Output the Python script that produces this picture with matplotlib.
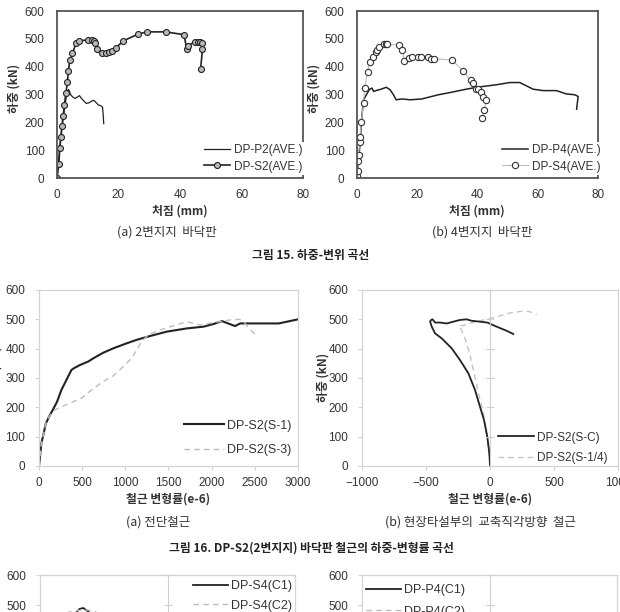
import matplotlib
matplotlib.use('Agg')
import matplotlib.pyplot as plt

plt.rcParams['font.family'] = ['Liberation Sans', 'Noto Sans CJK KR']
KR = ['Noto Sans CJK KR', 'Liberation Sans']

# fig 15 (a) load-deflection, 2-edge supported
p2_x = [0, 0.5, 1.0, 1.5, 2.0, 2.5, 3.0, 3.4, 3.7, 4.0, 4.4, 5.0, 5.8, 6.5, 7.3, 8.0, 8.8,
        9.5, 10.4, 11.2, 12.0, 12.8, 13.5, 14.2, 14.8, 15.0, 15.2]
p2_y = [0, 60, 120, 170, 215, 255, 290, 305, 318, 314, 300, 292, 286, 290, 296, 285, 276,
        268, 270, 276, 279, 270, 262, 260, 255, 230, 195]
s2_x = [0, 0.6, 0.9, 1.3, 1.6, 2.0, 2.4, 2.9, 3.4, 3.7, 4.2, 5.0, 6.2, 7.3, 10.0, 11.3,
        12.0, 12.4, 13.1, 14.5, 15.9, 16.9, 17.8, 19.2, 21.6, 26.4, 29.2, 35.3, 41.3, 42.2,
        42.7, 45.0, 46.0, 46.6, 47.0, 47.3, 46.7]
s2_y = [0, 51, 106, 149, 188, 221, 262, 306, 346, 386, 424, 448, 484, 493, 496, 496,
        493, 484, 462, 450, 448, 454, 457, 468, 493, 517, 525, 525, 515, 463,
        476, 490, 490, 487, 484, 462, 391]

# fig 15 (b) load-deflection, 4-edge supported
p4_x = [0, 0.55, 1.1, 1.6, 2.2, 3.1, 4.2, 5.0, 5.5, 6.6, 8.0, 9.7, 11.0, 12.1, 13.0, 14.9,
        17.7, 21.5, 24.8, 27.0, 30.9, 35.3, 39.7, 46.3, 50.7, 54.0, 58.5, 61.8, 66.2, 69.5,
        72.3, 73.4, 72.9]
p4_y = [0, 66, 138, 221, 281, 299, 319, 323, 311, 315, 319, 326, 317, 299, 281, 284,
        281, 284, 293, 299, 307, 317, 326, 335, 343, 343, 319, 314, 314, 302,
        299, 293, 247]
s4_x = [0, 0.2, 0.4, 0.55, 0.9, 1.0, 1.4, 2.2, 2.5, 3.5, 4.2, 5.3, 6.2, 6.6, 7.4, 9.1,
        9.5, 9.9, 13.8, 15.1, 15.7, 17.1, 18.2, 20.4, 21.2, 23.7, 24.5, 25.7, 31.5, 35.1,
        37.7, 38.6, 39.5, 40.3, 41.1, 41.9, 42.8, 42.3, 41.4]
s4_y = [6, 24, 60, 84, 131, 149, 202, 271, 323, 382, 415, 433, 452, 460, 469, 481,
        481, 480, 478, 460, 420, 430, 435, 435, 435, 435, 428, 428, 424, 386,
        351, 340, 320, 319, 310, 290, 280, 244, 214]

# fig 16 (a) shear reinforcement strain
s1_x = [0, 8, 27, 54, 77, 116, 163, 209, 259, 317, 375, 403, 472, 569, 646, 743, 859, 995,
        1130, 1285, 1479, 1711, 1905, 2021, 2120, 2200, 2271, 2329, 2563, 2776, 2873, 3000]
s1_y = [0, 20, 77, 111, 143, 168, 193, 219, 259, 293, 327, 333, 344, 356, 370, 386, 401, 416,
        430, 443, 458, 469, 475, 484, 494, 485, 477, 486, 486, 486, 492, 500]
s3_x = [0, 8, 27, 54, 77, 116, 182, 259, 356, 491, 607, 743, 859, 976, 1072, 1130, 1188,
        1266, 1401, 1556, 1711, 1866, 2021, 2214, 2323, 2389, 2447, 2505]
s3_y = [0, 20, 77, 111, 143, 168, 191, 202, 214, 231, 259, 288, 307, 339, 367, 395, 424,
        447, 464, 478, 492, 481, 489, 498, 500, 486, 464, 449]

# fig 16 (b) transverse bars at cast-in-place joint
sc_x = [0, -5, -21, -47, -78, -117, -169, -234, -299, -377, -429, -455, -468, -460, -449,
        -429, -390, -338, -286, -234, -182, -143, -78, -21, 52, 130, 182]
sc_y = [0, 43, 100, 157, 202, 259, 316, 361, 401, 435, 452, 475, 492, 498, 500,
        489, 489, 486, 492, 498, 500, 495, 492, 489, 475, 461, 450]
sq_x = [0, -8, -20, -38, -52, -70, -91, -110, -130, -155, -182, -205, -221, -240, -215,
        -170, -110, -50, 0, 80, 160, 240, 300, 340, 364]
sq_y = [0, 40, 90, 140, 180, 215, 248, 290, 327, 375, 418, 445, 462, 480, 478,
        485, 492, 498, 503, 512, 522, 527, 527, 522, 515]

# fig 17 (cut off at page bottom)
c1_x = [-725, -690, -660, -620]
c1_y = [470, 487, 490, 478]
c2_x = [-820, -760, -700, -640, -580, -530]
c2_y = [470, 478, 482, 484, 480, 470]

W, H = 620, 612
fig = plt.figure(figsize=(W / 100, H / 100), dpi=100)


def box(l, t, r, b):
    return [l / W, 1 - b / H, (r - l) / W, (b - t) / H]


def px(x, y):
    return x / W, 1 - y / H


def style_top(ax, xmax):
    ax.set_xlim(0, xmax)
    ax.set_ylim(0, 600)
    ax.set_xticks(range(0, xmax + 1, 20))
    ax.set_yticks(range(0, 601, 100))
    for s in ax.spines.values():
        s.set_color('#555555')
        s.set_linewidth(1.3)
    ax.tick_params(length=0, labelsize=8.5, labelcolor='#333333', pad=9)
    ax.tick_params(axis='x', pad=8)


def style_light(ax, xmin, xmax, step):
    ax.set_xlim(xmin, xmax)
    ax.set_ylim(0, 600)
    ax.set_xticks(range(xmin, xmax + 1, step))
    ax.set_yticks(range(0, 601, 100))
    for s in ax.spines.values():
        s.set_color('#d4d4d4')
        s.set_linewidth(0.9)
    ax.tick_params(length=3, color='#d4d4d4', labelsize=8.5, labelcolor='#333333', pad=7)
    ax.tick_params(axis='x', pad=5)


def zero_axis(pos, xmin, xmax):
    ax2 = fig.add_axes(pos, facecolor='none')
    ax2.set_xlim(xmin, xmax)
    ax2.set_ylim(0, 600)
    ax2.set_yticks(range(0, 601, 100))
    ax2.set_xticks([])
    for k in ['top', 'right', 'bottom']:
        ax2.spines[k].set_visible(False)
    ax2.spines['left'].set_position(('data', 0))
    ax2.spines['left'].set_color('#cfcfcf')
    ax2.tick_params(axis='y', direction='inout', length=6, color='#cfcfcf', labelleft=False)
    return ax2


def legend(ax, x, y, hl, sp, fs=8.5, handles=None, labels=None):
    kw = dict(loc='center left', bbox_to_anchor=px(x, y), bbox_transform=fig.transFigure,
              frameon=True, facecolor='white', edgecolor='none', framealpha=1,
              borderpad=0.2, handlelength=hl, handletextpad=0.3, labelspacing=sp,
              fontsize=fs, borderaxespad=0)
    if handles is None:
        lg = ax.legend(**kw)
    else:
        lg = ax.legend(handles, labels, **kw)
    for t in lg.get_texts():
        t.set_color('#333333')
    return lg


def xlabel(x, y, s):
    fig.text(*px(x, y), s, family=KR, fontsize=8.5, fontweight='bold',
             color='#333333', ha='center', va='center')


def ylabel(x, y, s):
    fig.text(*px(x, y), s, family=KR, fontsize=8.5, fontweight='bold',
             color='#333333', ha='center', va='center', rotation=90)


def caption(x, y, s):
    fig.text(*px(x, y), s, family=KR, fontsize=9, color='#333333',
             ha='center', va='center')


# ---- figure 15 ----
ax = fig.add_axes(box(57, 11, 303, 178))
style_top(ax, 80)
ax.plot(p2_x, p2_y, color='#222222', lw=0.9, label='DP-P2(AVE.)')
ax.plot(s2_x, s2_y, color='#222222', lw=1.2, marker='o', ms=4.3, mfc='#b8b8b8',
        mec='#222222', mew=0.8, label='DP-S2(AVE.)')
legend(ax, 202, 158.5, 2.2, 0.35)
xlabel(180, 211, '처짐 (mm)')
ylabel(14, 88, '하중 (kN)')
caption(167, 232, '(a) 2변지지  바닥판')

ax = fig.add_axes(box(357, 11, 598, 178))
style_top(ax, 80)
ax.plot(p4_x, p4_y, color='#222222', lw=1.1, label='DP-P4(AVE.)')
ax.plot(s4_x, s4_y, color='#bdbdbd', lw=0.8, marker='o', ms=4.5, mfc='white',
        mec='#333333', mew=0.8, label='DP-S4(AVE.)')
legend(ax, 500, 158.5, 2.2, 0.35)
xlabel(477, 211, '처짐 (mm)')
ylabel(314, 88, '하중 (kN)')
caption(482, 232, '(b) 4변지지  바닥판')

fig.text(*px(311, 255), '그림 15. 하중-변위 곡선', family=KR, fontsize=8.5,
         fontweight='bold', color='#222222', ha='center', va='center')

# ---- figure 16 ----
ax = fig.add_axes(box(39, 290, 298, 466))
style_light(ax, 0, 3000, 500)
ax.plot(s1_x, s1_y, color='#222222', lw=1.5, label='DP-S2(S-1)')
ax.plot(s3_x, s3_y, color='#bdbdbd', lw=1.0, dashes=(4, 3), label='DP-S2(S-3)')
legend(ax, 181, 438, 3.2, 1.0, fs=9)
xlabel(168, 499, '철근 변형률(e-6)')
ylabel(-4, 370, '하중 (kN)')
caption(158, 522, '(a) 전단철근')

pos = box(362, 290, 618, 466)
ax = fig.add_axes(pos)
style_light(ax, -1000, 1000, 500)
zero_axis(pos, -1000, 1000)
ax.plot(sq_x, sq_y, color='#c4c4c4', lw=1.0, dashes=(4, 3), label='DP-S2(S-1/4)')
ax.plot(sc_x, sc_y, color='#222222', lw=1.3, label='DP-S2(S-C)')
h, l = ax.get_legend_handles_labels()
lg = legend(ax, 496, 448, 3.0, 0.75, fs=8.5, handles=h[::-1], labels=l[::-1])
lg.get_frame().set_alpha(0)
xlabel(490, 499, '철근 변형률(e-6)')
ylabel(323, 377, '하중 (kN)')
caption(480, 522, '(b) 현장타설부의  교축직각방향  철근')

fig.text(*px(311, 548), '그림 16. DP-S2(2변지지) 바닥판 철근의 하중-변형률 곡선', family=KR,
         fontsize=8.5, fontweight='bold', color='#222222', ha='center', va='center')

# ---- figure 17 (partially visible) ----
pos = box(40, 575, 295, 755)
ax = fig.add_axes(pos)
style_light(ax, -1000, 1000, 500)
zero_axis(pos, -1000, 1000)
ax.plot(c1_x, c1_y, color='#222222', lw=1.3, label='DP-S4(C1)')
ax.plot(c2_x, c2_y, color='#bdbdbd', lw=1.0, dashes=(4, 3), label='DP-S4(C2)')
legend(ax, 190, 596, 2.8, 0.6, fs=9)

pos = box(362, 575, 617, 755)
ax = fig.add_axes(pos)
style_light(ax, -1000, 1000, 500)
zero_axis(pos, -1000, 1000)
ax.plot([], [], color='#222222', lw=1.3, label='DP-P4(C1)')
ax.plot([], [], color='#bdbdbd', lw=1.0, dashes=(4, 3), label='DP-P4(C2)')
legend(ax, 363, 601, 2.8, 0.75, fs=9)

fig.savefig('out.png', dpi=100, facecolor='white')
